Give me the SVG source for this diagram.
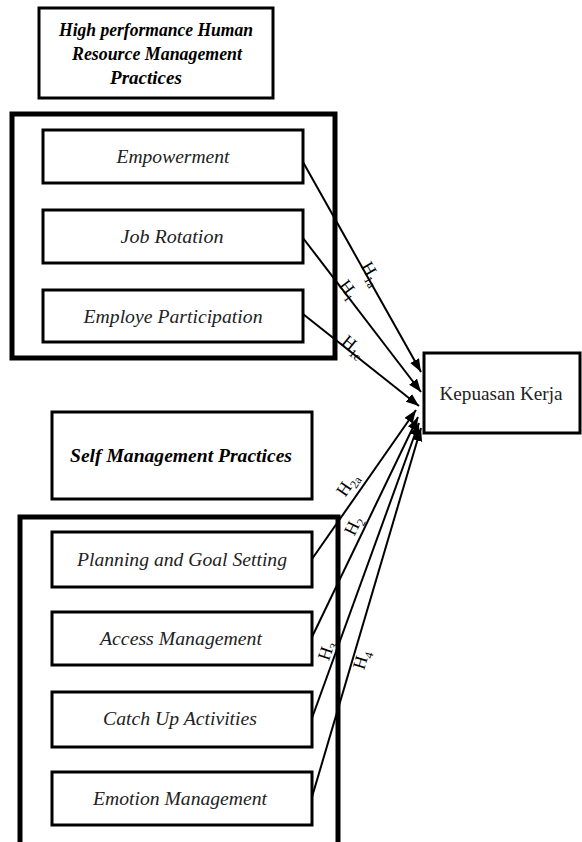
<svg xmlns="http://www.w3.org/2000/svg" width="582" height="842" viewBox="0 0 582 842">
<style>
  .box{fill:#fff;stroke:#000;stroke-width:3}
  .outer{fill:none;stroke:#000;stroke-width:5}
  .t{font-family:"Liberation Serif",serif;font-style:italic;font-size:19px;fill:#222;text-anchor:middle}
  .tb{font-family:"Liberation Serif",serif;font-style:italic;font-weight:bold;font-size:19px;fill:#000;text-anchor:middle}
  .k{font-family:"Liberation Serif",serif;font-size:19px;fill:#222;text-anchor:middle}
  .h{font-family:"Liberation Serif",serif;font-size:18px;fill:#000;text-anchor:middle}
  .sub{font-size:12px}
  .conn line{stroke:#000;stroke-width:2;marker-end:url(#ah)}
</style>
<defs>
  <marker id="ah" markerUnits="userSpaceOnUse" markerWidth="14" markerHeight="12" refX="13" refY="5" orient="auto">
    <path d="M0,0 L13,5 L0,10 Z" fill="#000"/>
  </marker>
</defs>
<rect width="582" height="842" fill="#fff"/>

<g id="hrm-title">
  <rect class="box" x="39" y="8" width="234" height="90"/>
  <text class="tb" x="156" y="36" textLength="194" lengthAdjust="spacingAndGlyphs">High performance Human</text>
  <text class="tb" x="157" y="60" textLength="170" lengthAdjust="spacingAndGlyphs">Resource Management</text>
  <text class="tb" x="146" y="84">Practices</text>
</g>

<g id="hrm-group">
  <rect class="outer" x="12" y="114" width="323" height="244"/>
</g>
<g id="empowerment">
  <rect class="box" x="43" y="130" width="260" height="53"/>
  <text class="t" x="173" y="163" textLength="113" lengthAdjust="spacingAndGlyphs">Empowerment</text>
</g>
<g id="job-rotation">
  <rect class="box" x="43" y="210" width="260" height="53"/>
  <text class="t" x="172" y="243" textLength="103" lengthAdjust="spacingAndGlyphs">Job Rotation</text>
</g>
<g id="employe-participation">
  <rect class="box" x="43" y="290" width="260" height="52"/>
  <text class="t" x="173" y="323" textLength="179" lengthAdjust="spacingAndGlyphs">Employe Participation</text>
</g>

<g id="kepuasan-kerja">
  <rect class="box" x="424" y="353" width="156" height="80"/>
  <text class="k" x="501" y="400" textLength="123" lengthAdjust="spacingAndGlyphs">Kepuasan Kerja</text>
</g>

<g id="self-title">
  <rect class="box" x="52" y="412" width="260" height="87"/>
  <text class="tb" x="181" y="462" textLength="222" lengthAdjust="spacingAndGlyphs">Self Management Practices</text>
</g>

<g id="self-group">
  <rect class="outer" x="20" y="517" width="318" height="340"/>
</g>
<g id="planning">
  <rect class="box" x="52" y="532" width="260" height="55"/>
  <text class="t" x="182" y="566" textLength="210" lengthAdjust="spacingAndGlyphs">Planning and Goal Setting</text>
</g>
<g id="access">
  <rect class="box" x="52" y="612" width="260" height="53"/>
  <text class="t" x="181" y="645" textLength="162" lengthAdjust="spacingAndGlyphs">Access Management</text>
</g>
<g id="catch-up">
  <rect class="box" x="52" y="692" width="260" height="55"/>
  <text class="t" x="180" y="725" textLength="154" lengthAdjust="spacingAndGlyphs">Catch Up Activities</text>
</g>
<g id="emotion">
  <rect class="box" x="52" y="772" width="260" height="53"/>
  <text class="t" x="180" y="805" textLength="174" lengthAdjust="spacingAndGlyphs">Emotion Management</text>
</g>

<g id="connectors" class="conn">
  <line x1="303" y1="162" x2="421" y2="372"/>
  <line x1="303" y1="238" x2="421" y2="392"/>
  <line x1="303" y1="314" x2="419" y2="406"/>
  <line x1="312" y1="559" x2="416" y2="410"/>
  <line x1="312" y1="637" x2="418" y2="417"/>
  <line x1="312" y1="718" x2="419" y2="423"/>
  <line x1="312" y1="797" x2="421" y2="428"/>
</g>

<g id="labels">
  <text class="h" transform="translate(371,274) rotate(60)" y="5">H<tspan class="sub" dy="4">1a</tspan></text>
  <text class="h" transform="translate(348,290) rotate(53)" y="5">H<tspan class="sub" dy="4">1</tspan></text>
  <text class="h" transform="translate(353,347) rotate(39)" y="5">H<tspan class="sub" dy="4">1c</tspan></text>
  <text class="h" transform="translate(348,485) rotate(-56)" y="5">H<tspan class="sub" dy="4">2a</tspan></text>
  <text class="h" transform="translate(354,526) rotate(-64)" y="5">H<tspan class="sub" dy="4">2</tspan></text>
  <text class="h" transform="translate(327,651) rotate(-71)" y="5">H<tspan class="sub" dy="4">3</tspan></text>
  <text class="h" transform="translate(362,660) rotate(-73)" y="5">H<tspan class="sub" dy="4">4</tspan></text>
</g>
</svg>
